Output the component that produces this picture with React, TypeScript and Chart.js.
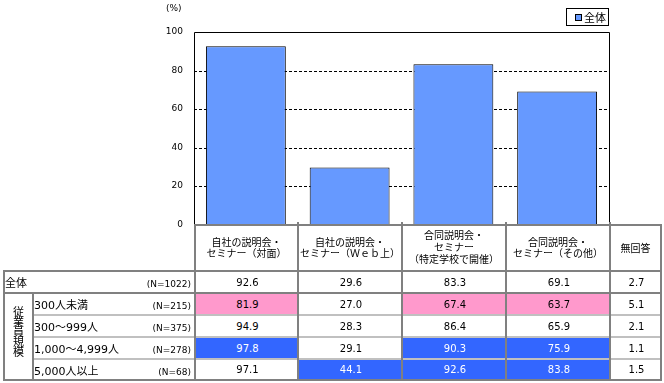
import React, { useEffect, useRef } from "react";
import { Chart, registerables } from "chart.js";

Chart.register(...registerables);

// ---------- data ----------
const categories = [
  ["自社の説明会・", "セミナー（対面）"],
  ["自社の説明会・", "セミナー（Ｗｅｂ上）"],
  ["合同説明会・", "セミナー", "（特定学校で開催）"],
  ["合同説明会・", "セミナー（その他）"],
];
const noAnswerLabel = "無回答";
const seriesLabel = "全体";
const overallValues = [92.6, 29.6, 83.3, 69.1];
const overallNoAnswer = 2.7;
const overallN = 1022;
const groupLabel = "従業員規模";
const sizeLabels = ["300人未満", "300～999人", "1,000～4,999人", "5,000人以上"];
const sizeN = [215, 375, 278, 68];
const size300Under = [81.9, 27.0, 67.4, 63.7];
const size300to999 = [94.9, 28.3, 86.4, 65.9];
const size1000to4999 = [97.8, 29.1, 90.3, 75.9];
const size5000Over = [97.1, 44.1, 92.6, 83.8];
const sizeValues = [size300Under, size300to999, size1000to4999, size5000Over];
const sizeNoAnswer = [5.1, 2.1, 1.1, 1.5];
const yTicks = [0, 20, 40, 60, 80, 100];
const unitLabel = "(%)";

// ---------- style ----------
const FONT = '"DejaVu Sans", "Noto Sans CJK JP", sans-serif';
const BAR = "#6699FF";
const PINK = "#FF99CC";
const BLUE = "#3366FF";
const DARK = "#808080";
const LIGHT = "#C0C0C0";

const COLS = [194, 297, 401, 505, 609, 660];
const ROW_LINES = [270, 292, 314, 336, 358, 379];

function cellBg(v: number, base: number) {
  if (v - base >= 5) return BLUE;
  if (v - base <= -5) return PINK;
  return undefined;
}

const abs = (l: number, t: number, w: number, h: number): React.CSSProperties => ({
  position: "absolute",
  left: l,
  top: t,
  width: w,
  height: h,
});

export default function App() {
  const ref = useRef<HTMLCanvasElement | null>(null);

  useEffect(() => {
    const canvas = ref.current;
    if (!canvas) return;
    const framePlugin = {
      id: "framePlugin",
      beforeDatasetsDraw(chart: any) {
        const { ctx, chartArea } = chart;
        const y = chart.scales.y;
        ctx.save();
        ctx.strokeStyle = "#000";
        ctx.lineWidth = 1;
        ctx.setLineDash([3, 2]);
        for (const v of yTicks) {
          if (v === 0 || v === 100) continue;
          const py = Math.round(y.getPixelForValue(v)) + 0.5;
          ctx.beginPath();
          ctx.moveTo(chartArea.left, py);
          ctx.lineTo(chartArea.right, py);
          ctx.stroke();
        }
        ctx.restore();
      },
      afterDatasetsDraw(chart: any) {
        const { ctx, chartArea } = chart;
        ctx.save();
        ctx.strokeStyle = "#000";
        ctx.lineWidth = 1;
        ctx.setLineDash([]);
        ctx.beginPath();
        const l = Math.round(chartArea.left) + 0.5;
        const r = Math.round(chartArea.right) + 0.5;
        const t = Math.round(chartArea.top) + 0.5;
        const b = Math.round(chartArea.bottom);
        ctx.moveTo(l, b);
        ctx.lineTo(l, t);
        ctx.lineTo(r, t);
        ctx.lineTo(r, b);
        ctx.stroke();
        ctx.restore();
      },
    };
    const chart = new Chart(canvas, {
      type: "bar",
      data: {
        labels: categories.map((c) => c.join("")),
        datasets: [
          {
            label: seriesLabel,
            data: overallValues,
            backgroundColor: BAR,
            borderColor: "#000",
            borderWidth: 1,
            barPercentage: 0.77,
            categoryPercentage: 1,
          },
        ],
      },
      options: {
        responsive: true,
        maintainAspectRatio: false,
        animation: false,
        layout: { padding: { left: 0, right: 55, top: 32, bottom: 8 } },
        plugins: { legend: { display: false }, tooltip: { enabled: false } },
        scales: {
          x: { display: false },
          y: {
            min: 0,
            max: 100,
            afterBuildTicks: (s: any) => {
              s.ticks = yTicks.map((v) => ({ value: v }));
            },
            afterFit: (s: any) => {
              s.width = 194;
            },
            ticks: {
              font: { size: 9, family: FONT },
              color: "#000",
              padding: 11,
              callback: (v: any) => String(v),
            },
            grid: { display: false, drawTicks: false },
            border: { display: false },
          },
        },
      },
      plugins: [framePlugin],
    } as any);
    return () => chart.destroy();
  }, []);

  const rowsTop = [ROW_LINES[1] + 2, ROW_LINES[2] + 2, ROW_LINES[3] + 2, ROW_LINES[4] + 2];
  const rowsBottom = [ROW_LINES[2], ROW_LINES[3], ROW_LINES[4], ROW_LINES[5]];

  const cells: React.ReactNode[] = [];
  const headers = [...categories, [noAnswerLabel]];
  headers.forEach((lines, i) => {
    cells.push(
      <div
        key={"h" + i}
        style={{
          ...abs(COLS[i] + 2, 226, COLS[i + 1] - COLS[i] - 2, 44),
          display: "flex",
          flexDirection: "column",
          alignItems: "center",
          justifyContent: "center",
          fontSize: 10,
          lineHeight: lines.length > 2 ? "12px" : "11px",
          whiteSpace: "nowrap",
        }}
      >
        {lines.map((t, k) => (
          <div key={k}>{t}</div>
        ))}
      </div>
    );
  });

  const valueCell = (key: string, ci: number, top: number, bottom: number, text: string, bg?: string) => (
    <div
      key={key}
      style={{
        ...abs(COLS[ci] + 2, top, COLS[ci + 1] - COLS[ci] - 2, bottom - top),
        background: bg,
        color: bg === BLUE ? "#fff" : "#000",
        display: "flex",
        alignItems: "center",
        justifyContent: "center",
        paddingLeft: 2,
        boxSizing: "border-box",
        fontSize: 10,
      }}
    >
      {text}
    </div>
  );

  const overallTop = ROW_LINES[0] + 2;
  const overallBottom = ROW_LINES[1];
  [...overallValues, overallNoAnswer].forEach((v, ci) => {
    cells.push(valueCell("o" + ci, ci, overallTop, overallBottom, v.toFixed(1)));
  });
  cells.push(
    <div key="olab" style={{ ...abs(5, overallTop, 60, overallBottom - overallTop), display: "flex", alignItems: "center", fontSize: 11 }}>
      {seriesLabel}
    </div>
  );
  cells.push(
    <div
      key="on"
      style={{ ...abs(120, overallTop + 2, 71, overallBottom - overallTop), display: "flex", alignItems: "center", justifyContent: "flex-end", fontSize: 9 }}
    >
      {`(N=${overallN})`}
    </div>
  );

  sizeLabels.forEach((lab, ri) => {
    const t = rowsTop[ri];
    const b = rowsBottom[ri];
    sizeValues[ri].forEach((v, ci) => {
      cells.push(valueCell(`r${ri}c${ci}`, ci, t, b, v.toFixed(1), cellBg(v, overallValues[ci])));
    });
    cells.push(valueCell(`r${ri}na`, 4, t, b, sizeNoAnswer[ri].toFixed(1)));
    cells.push(
      <div key={"rl" + ri} style={{ ...abs(34, t, 100, b - t), display: "flex", alignItems: "center", fontSize: 11, whiteSpace: "nowrap" }}>
        {lab}
      </div>
    );
    cells.push(
      <div
        key={"rn" + ri}
        style={{ ...abs(120, t + 2, 71, b - t), display: "flex", alignItems: "center", justifyContent: "flex-end", fontSize: 9 }}
      >
        {`(N=${sizeN[ri]})`}
      </div>
    );
  });

  cells.push(
    <div
      key="grp"
      style={{
        ...abs(5, ROW_LINES[1] + 2, 27, ROW_LINES[5] - ROW_LINES[1] - 2),
        display: "flex",
        flexDirection: "column",
        alignItems: "center",
        justifyContent: "center",
        fontSize: 11,
        lineHeight: "10px",
        paddingBottom: 8,
        boxSizing: "border-box",
      }}
    >
      {Array.from(groupLabel).map((ch, k) => (
        <div key={k} style={{ height: 10 }}>{ch}</div>
      ))}
    </div>
  );

  const lines: React.ReactNode[] = [];
  const hline = (key: string, x0: number, x1: number, y: number, c: string) =>
    lines.push(<div key={key} style={{ ...abs(x0, y, x1 - x0, 2), background: c }} />);
  const vline = (key: string, x: number, y0: number, y1: number, c: string) =>
    lines.push(<div key={key} style={{ ...abs(x, y0, 2, y1 - y0), background: c }} />);

  hline("l1", 32, 662, ROW_LINES[2], LIGHT);
  hline("l2", 32, 662, ROW_LINES[3], LIGHT);
  hline("l3", 32, 662, ROW_LINES[4], LIGHT);
  hline("top", COLS[0], 662, 224, DARK);
  hline("hb", 3, 662, ROW_LINES[0], DARK);
  hline("ob", 3, 662, ROW_LINES[1], DARK);
  hline("bb", 3, 662, ROW_LINES[5], DARK);
  COLS.forEach((x, i) => {
    const y0 = i === 0 || i === COLS.length - 1 ? 224 : 222;
    vline("c" + i, x, y0, ROW_LINES[5] + 2, DARK);
  });
  vline("lx", 3, ROW_LINES[0], ROW_LINES[5] + 2, DARK);
  vline("gx", 32, ROW_LINES[1], ROW_LINES[5] + 2, DARK);

  return (
    <div
      style={{
        position: "fixed",
        left: 0,
        top: 0,
        width: 664,
        height: 383,
        background: "#fff",
        overflow: "hidden",
        fontFamily: FONT,
        color: "#000",
      }}
    >
      <div style={abs(0, 0, 664, 241)}>
        <canvas ref={ref} />
      </div>
      <div style={{ ...abs(166, 2, 24, 12), fontSize: 9, lineHeight: "12px" }}>{unitLabel}</div>
      <div
        style={{
          ...abs(566, 8, 43, 18),
          border: "1px solid #000",
          boxSizing: "border-box",
          display: "flex",
          alignItems: "center",
          fontSize: 11,
        }}
      >
        <div style={{ width: 7, height: 7, background: BAR, border: "1px solid #000", marginLeft: 8, marginRight: 2, boxSizing: "border-box" }} />
        <span>{seriesLabel}</span>
      </div>
      {cells}
      {lines}
    </div>
  );
}
